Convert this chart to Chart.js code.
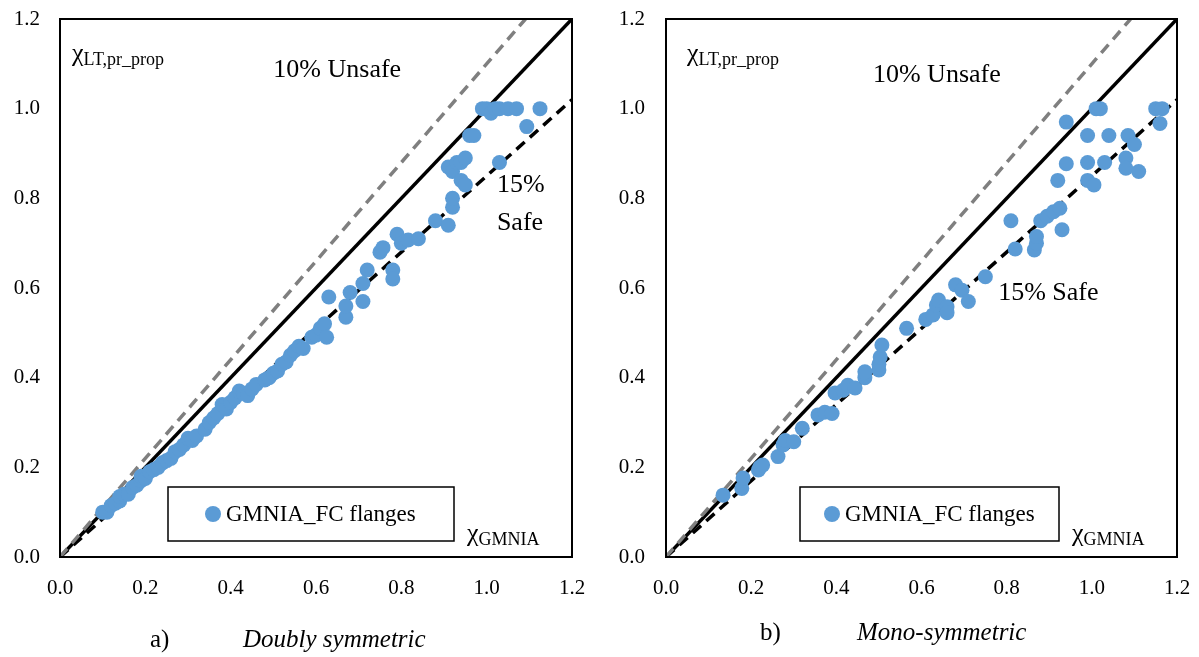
<!DOCTYPE html>
<html>
<head>
<meta charset="utf-8">
<script src="https://cdn.jsdelivr.net/npm/chart.js@4.4.1/dist/chart.umd.min.js"></script>
<style>
body { margin: 0; background: #fff; width: 1199px; height: 657px; overflow: hidden; position: relative; }
canvas { position: absolute; top: 0; }
#chartA { left: 0; }
#chartB { left: 600px; }
</style>
</head>
<body>
<canvas id="chartA" width="600" height="657"></canvas>
<canvas id="chartB" width="599" height="657"></canvas>
<script>
// a) doubly symmetric: chi_GMNIA vs chi_LT,pr_prop
var doublyX = [0.10, 0.11, 0.12, 0.13, 0.14, 0.14, 0.15, 0.16, 0.17, 0.18, 0.19, 0.19, 0.20, 0.21, 0.22, 0.23, 0.24, 0.25, 0.26, 0.27,
  0.28, 0.29, 0.30, 0.31, 0.32, 0.34, 0.35, 0.36, 0.37, 0.38, 0.39, 0.40, 0.41, 0.42, 0.43, 0.44, 0.45, 0.46, 0.48, 0.49,
  0.50, 0.51, 0.52, 0.53, 0.54, 0.55, 0.56, 0.57, 0.59, 0.60, 0.61, 0.62, 0.625, 0.63, 0.67, 0.67, 0.68, 0.71, 0.71, 0.72,
  0.75, 0.757, 0.78, 0.78, 0.79, 0.80, 0.816, 0.84, 0.88, 0.91, 0.92, 0.92, 0.91, 0.92, 0.93, 0.94, 0.95, 0.94, 0.95, 0.96,
  0.97, 0.99, 1.00, 1.01, 1.02, 1.03, 1.05, 1.07, 1.094, 1.125, 1.03];
var doublyY = [0.10, 0.10, 0.115, 0.12, 0.125, 0.135, 0.14, 0.14, 0.155, 0.16, 0.17, 0.18, 0.175, 0.19, 0.195, 0.20, 0.21, 0.215, 0.22, 0.235,
  0.24, 0.25, 0.265, 0.26, 0.27, 0.285, 0.30, 0.31, 0.32, 0.34, 0.33, 0.345, 0.355, 0.37, 0.365, 0.36, 0.375, 0.385, 0.395, 0.40,
  0.41, 0.415, 0.43, 0.435, 0.45, 0.46, 0.47, 0.465, 0.49, 0.495, 0.51, 0.52, 0.49, 0.58, 0.535, 0.56, 0.59, 0.57, 0.61, 0.64,
  0.68, 0.69, 0.64, 0.62, 0.72, 0.70, 0.707, 0.71, 0.75, 0.74, 0.78, 0.80, 0.87, 0.86, 0.88, 0.88, 0.89, 0.84, 0.83, 0.94,
  0.94, 1.00, 1.00, 0.99, 1.00, 1.00, 1.00, 1.00, 0.96, 1.00, 0.88];

// b) mono-symmetric
var monoX = [0.134, 0.178, 0.181, 0.217, 0.22, 0.227, 0.263, 0.275, 0.28, 0.30, 0.32, 0.357, 0.373, 0.39, 0.397, 0.416, 0.427, 0.444, 0.467, 0.467,
  0.50, 0.50, 0.503, 0.507, 0.565, 0.61, 0.627, 0.635, 0.64, 0.66, 0.66, 0.68, 0.695, 0.71, 0.75, 0.81, 0.82, 0.865, 0.87, 0.87,
  0.88, 0.895, 0.91, 0.925, 0.93, 0.92, 0.94, 0.94, 0.99, 1.005, 0.99, 0.99, 1.01, 1.02, 1.03, 1.04, 1.08, 1.08, 1.085, 1.10,
  1.11, 1.15, 1.165, 1.16];
var monoY = [0.138, 0.153, 0.176, 0.194, 0.20, 0.205, 0.224, 0.25, 0.26, 0.257, 0.287, 0.317, 0.323, 0.32, 0.366, 0.372, 0.383, 0.377, 0.40, 0.413,
  0.417, 0.43, 0.446, 0.473, 0.51, 0.53, 0.54, 0.562, 0.573, 0.558, 0.545, 0.607, 0.595, 0.57, 0.625, 0.75, 0.687, 0.685, 0.70, 0.715,
  0.75, 0.76, 0.77, 0.778, 0.73, 0.84, 0.877, 0.97, 0.84, 0.83, 0.88, 0.94, 1.00, 1.00, 0.88, 0.94, 0.89, 0.867, 0.94, 0.92,
  0.86, 1.00, 1.00, 0.967];

// reference lines: equal, 10% unsafe, 15% safe
var equalLine = [[0, 0], [1.2, 1.2]];
var unsafeLine = [[0, 0], [1.091, 1.2]];
var safeLine = [[0, 0], [1.2, 1.02]];

var tickValues = [0, 0.2, 0.4, 0.6, 0.8, 1.0, 1.2];

var serif = "'Liberation Serif', 'Times New Roman', serif";

function chi(ctx, sub, x, y) {
  ctx.font = '26px ' + serif;
  ctx.fillText('\u03C7', x, y - 2);
  var w = ctx.measureText('\u03C7').width;
  ctx.font = '18px ' + serif;
  ctx.fillText(sub, x + w, y + 2);
}

var extras = {
  id: 'extras',
  afterDatasetsDraw: function(chart, args, o) {
    var ctx = chart.ctx, a = chart.chartArea;
    var sx = chart.scales.x, sy = chart.scales.y;
    ctx.save();
    ctx.strokeStyle = '#000';
    ctx.lineWidth = 2;
    ctx.strokeRect(a.left, a.top, a.right - a.left, a.bottom - a.top);

    ctx.fillStyle = '#000';
    ctx.textAlign = 'left';
    ctx.textBaseline = 'alphabetic';
    chi(ctx, 'LT,pr_prop', a.left + o.yTitleDx, a.top + 44);
    chi(ctx, 'GMNIA', a.right - 105, a.bottom - 14);

    ctx.font = '26px ' + serif;
    o.notes.forEach(function(n) {
      ctx.fillText(n.text, sx.getPixelForValue(n.x), sy.getPixelForValue(n.y));
    });

    // legend box
    var lx = a.left + o.legendDx, ly = a.bottom - 70;
    ctx.lineWidth = 1.5;
    ctx.strokeRect(lx, ly, o.legendW, 54);
    ctx.fillStyle = '#5B9BD5';
    ctx.beginPath();
    ctx.arc(lx + o.markerDx, ly + 27, 8, 0, Math.PI * 2);
    ctx.fill();
    ctx.fillStyle = '#000';
    ctx.font = '23px ' + serif;
    ctx.textBaseline = 'middle';
    ctx.fillText('GMNIA_FC flanges', lx + o.markerDx + 13, ly + 28);

    // caption under the chart
    ctx.textBaseline = 'alphabetic';
    ctx.font = '25px ' + serif;
    ctx.fillText(o.tag, o.tagX, o.capY);
    ctx.font = 'italic 25px ' + serif;
    ctx.fillText(o.caption, o.capX, o.capY);
    ctx.restore();
  }
};

function refLine(pts, color, dash) {
  return {
    type: 'line',
    data: pts.map(function(p) { return {x: p[0], y: p[1]}; }),
    borderColor: color,
    borderWidth: 3.5,
    borderDash: dash,
    pointRadius: 0,
    fill: false,
    order: 2
  };
}

function axis(width, height, pad) {
  return {
    type: 'linear',
    min: 0,
    max: 1.2,
    grid: {display: false, drawTicks: false},
    border: {display: false},
    afterBuildTicks: function(s) { s.ticks = tickValues.map(function(v) { return {value: v}; }); },
    afterFit: function(s) {
      if (width) s.width = width;
      if (height) s.height = height;
      // let the layout padding alone decide the plot edges
      s.paddingTop = 0; s.paddingBottom = 0; s.paddingLeft = 0; s.paddingRight = 0;
    },
    ticks: {
      padding: pad,
      color: '#000',
      font: {family: serif, size: 21},
      callback: function(v) { return v.toFixed(1); }
    }
  };
}

function buildChart(id, xs, ys, o) {
  var pts = xs.map(function(x, i) { return {x: x, y: ys[i]}; });
  return new Chart(document.getElementById(id), {
    type: 'scatter',
    data: {
      datasets: [
        {data: pts, backgroundColor: '#5B9BD5', borderWidth: 0, pointRadius: 7.5, pointHoverRadius: 7.5, order: 0},
        refLine(unsafeLine, '#7f7f7f', [11, 7]),
        refLine(equalLine, '#000', []),
        refLine(safeLine, '#000', [11, 7])
      ]
    },
    options: {
      responsive: false,
      animation: false,
      layout: {padding: {top: 19, right: o.padRight, left: 0, bottom: 0}},
      plugins: {legend: {display: false}, tooltip: {enabled: false}, extras: o},
      scales: {
        x: axis(0, 100, 19),
        y: axis(o.yWidth, 0, o.yPad)
      }
    },
    plugins: [extras]
  });
}

buildChart('chartA', doublyX, doublyY, {
  padRight: 28, yWidth: 60, yPad: 20, yTitleDx: 12,
  notes: [{text: '10% Unsafe', x: 0.50, y: 1.07}, {text: '15%', x: 1.024, y: 0.814}, {text: 'Safe', x: 1.024, y: 0.73}],
  legendDx: 108, legendW: 286, markerDx: 45,
  tag: 'a)', tagX: 150, caption: 'Doubly symmetric', capX: 243, capY: 647
});

buildChart('chartB', monoX, monoY, {
  padRight: 22, yWidth: 66, yPad: 21, yTitleDx: 21,
  notes: [{text: '10% Unsafe', x: 0.486, y: 1.06}, {text: '15% Safe', x: 0.78, y: 0.573}],
  legendDx: 134, legendW: 259, markerDx: 32,
  tag: 'b)', tagX: 160, caption: 'Mono-symmetric', capX: 257, capY: 640
});
</script>
</body>
</html>
